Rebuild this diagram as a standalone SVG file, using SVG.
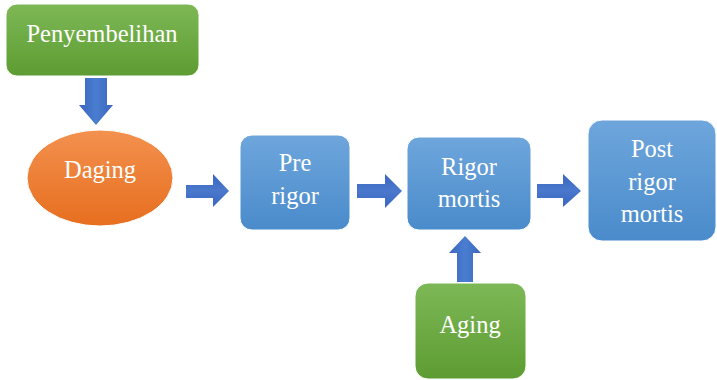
<svg xmlns="http://www.w3.org/2000/svg" width="717" height="380" viewBox="0 0 717 380">
<defs>
<linearGradient id="gGreen" x1="0" y1="0" x2="0" y2="1"><stop offset="0" stop-color="#7db856"/><stop offset="1" stop-color="#5d9c32"/></linearGradient>
<linearGradient id="gBlue" x1="0" y1="0" x2="0" y2="1"><stop offset="0" stop-color="#6ea6dc"/><stop offset="1" stop-color="#4a8bcb"/></linearGradient>
<linearGradient id="gOrange" x1="0" y1="0" x2="0" y2="1"><stop offset="0" stop-color="#f3914f"/><stop offset="1" stop-color="#e76e1f"/></linearGradient>
<linearGradient id="gArrH" x1="0" y1="0" x2="0" y2="1"><stop offset="0" stop-color="#3a66c0"/><stop offset="0.5" stop-color="#4a78cc"/><stop offset="1" stop-color="#3a66c0"/></linearGradient>
<linearGradient id="gArrV" x1="0" y1="0" x2="1" y2="0"><stop offset="0" stop-color="#3a66c0"/><stop offset="0.5" stop-color="#4a7dd0"/><stop offset="1" stop-color="#3a66c0"/></linearGradient>
</defs>
<style>
.lbl{font-family:"Liberation Serif",Tinos,"Times New Roman",serif;font-size:24.5px;fill:#ffffff;text-anchor:middle}
.green{fill:url(#gGreen);stroke:#ffffff;stroke-width:1}
.blue{fill:url(#gBlue);stroke:#ffffff;stroke-width:1}
.arrH{fill:url(#gArrH)}
.arrV{fill:url(#gArrV)}
</style>
<rect width="717" height="380" fill="#ffffff"/>
<g id="connectors">
<polygon class="arrV" points="85,78 107,78 107,105 113,105 96,125 79,105 85,105"/>
<polygon class="arrH" points="186,185 213,185 213,174 229,191 213,207 213,198 186,198"/>
<polygon class="arrH" points="357,184 385,184 385,174 402,191 385,208 385,198 357,198"/>
<polygon class="arrH" points="537,184 563,184 563,174 581,191 563,207 563,198 537,198"/>
<polygon class="arrV" points="457,282 473,282 473,253 481,253 465,236 449,253 457,253"/>
</g>
<g id="penyembelihan">
<rect class="green" x="6" y="4" width="193" height="72" rx="11"/>
<text class="lbl" x="102" y="42">Penyembelihan</text>
</g>
<g id="daging">
<ellipse cx="100" cy="178" rx="73" ry="48" fill="url(#gOrange)" stroke="#ffffff" stroke-width="1"/>
<text class="lbl" x="100" y="178">Daging</text>
</g>
<g id="pre-rigor">
<rect class="blue" x="240" y="135" width="110" height="95" rx="12"/>
<text class="lbl" x="295" y="171">Pre</text>
<text class="lbl" x="295" y="204">rigor</text>
</g>
<g id="rigor-mortis">
<rect class="blue" x="407" y="137" width="124" height="93" rx="12"/>
<text class="lbl" x="469" y="175">Rigor</text>
<text class="lbl" x="469" y="207">mortis</text>
</g>
<g id="post-rigor-mortis">
<rect class="blue" x="588" y="120" width="128" height="121" rx="14"/>
<text class="lbl" x="652" y="157">Post</text>
<text class="lbl" x="652" y="190">rigor</text>
<text class="lbl" x="652" y="222">mortis</text>
</g>
<g id="aging">
<rect class="green" x="415" y="283" width="111" height="96" rx="13"/>
<text class="lbl" x="470" y="333">Aging</text>
</g>
</svg>
